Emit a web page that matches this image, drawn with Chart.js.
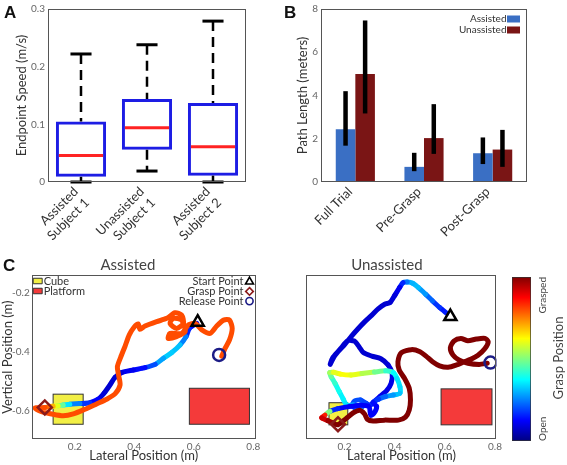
<!DOCTYPE html>
<html>
<head>
<meta charset="utf-8">
<script src="https://cdn.jsdelivr.net/npm/chart.js@4.4.1/dist/chart.umd.min.js"></script>
<style>
  html, body { margin: 0; padding: 0; background: #fff; }
  #fig { position: relative; width: 567px; height: 465px; overflow: hidden; font-family: Lato, 'Open Sans', sans-serif; }
  canvas { position: absolute; }
  .tag { position: absolute; font: bold 17px 'Liberation Sans', Arial, sans-serif; line-height: 1; color: #111; }
  .rot { position: absolute; transform-origin: 0 0; white-space: nowrap; color: #444; }
</style>
</head>
<body>
<div id="fig">
  <canvas id="chartA" width="290" height="250" style="left:0;top:0"></canvas>
  <canvas id="chartB" width="277" height="250" style="left:290px;top:0"></canvas>
  <canvas id="chartC1" width="275" height="215" style="left:0;top:250px"></canvas>
  <canvas id="chartC2" width="240" height="215" style="left:266px;top:250px"></canvas>
  <canvas id="colorbar" width="19" height="164" style="left:512px;top:277px"></canvas>
  <div class="tag" style="left:4px;top:4px">A</div>
  <div class="tag" style="left:284px;top:4px">B</div>
  <div class="tag" style="left:3px;top:257px">C</div>
  <div class="rot" style="left:536px;top:277px;font-size:10px;line-height:12px;transform:rotate(-90deg) translateX(-100%)">Grasped</div>
  <div class="rot" style="left:536px;top:441px;font-size:10px;line-height:12px;transform:rotate(-90deg)">Open</div>
  <div class="rot" style="left:550px;top:358px;font-size:13px;line-height:16px;transform:rotate(-90deg) translateX(-50%)">Grasp Position</div>
</div>
<script>
// ===========================
// DATA
// ===========================
// A - endpoint speed box plots
const SUBJECTS = [['Assisted', 'Subject 1'], ['Unassisted', 'Subject 1'], ['Assisted', 'Subject 2']];
const SPEED_MIN = [0, 0.019, 0];
const SPEED_Q1 = [0.009, 0.056, 0.011];
const SPEED_MEDIAN = [0.046, 0.094, 0.061];
const SPEED_Q3 = [0.105, 0.144, 0.137];
const SPEED_MAX = [0.222, 0.238, 0.279];
const SPEED_TICKS = [0, 0.1, 0.2, 0.3];

// B - path length bars with error bars
const PHASES = ['Full Trial', 'Pre-Grasp', 'Post-Grasp'];
const ASSISTED_LEN = [2.44, 0.70, 1.33];
const ASSISTED_LO = [1.68, 0.50, 0.83];
const ASSISTED_HI = [4.20, 1.35, 2.06];
const UNASSISTED_LEN = [5.00, 2.03, 1.50];
const UNASSISTED_LO = [3.17, 1.30, 0.70];
const UNASSISTED_HI = [7.47, 3.60, 2.41];

// C - endpoint trajectories (lateral m, vertical m, grasp 0 = open .. 1 = grasped)
const LATERAL_TICKS = [0.2, 0.4, 0.6, 0.8];
const VERTICAL_TICKS = [-0.6, -0.4, -0.2];

const ASSISTED_X = [
  0.610, 0.585, 0.574, 0.554, 0.526, 0.498, 0.470, 0.436, 0.397, 0.357, 0.335, 0.318, 0.298, 0.279, 0.251,
  0.217, 0.183, 0.161, 0.144, 0.127, 0.111, 0.099, 0.082, 0.066, 0.088, 0.122, 0.161, 0.195, 0.234, 0.273,
  0.307, 0.335, 0.352, 0.347, 0.343, 0.354, 0.369, 0.383, 0.399, 0.413, 0.419, 0.436, 0.475, 0.509, 0.537,
  0.559, 0.565, 0.542, 0.520, 0.531, 0.559, 0.571, 0.542, 0.514, 0.520, 0.559, 0.582, 0.604, 0.627, 0.655,
  0.677, 0.700, 0.720, 0.729, 0.720, 0.705, 0.694
];
const ASSISTED_Y = [
  -0.304, -0.321, -0.349, -0.377, -0.403, -0.422, -0.443, -0.454, -0.462, -0.471, -0.487, -0.513, -0.541, -0.561, -0.573,
  -0.576, -0.578, -0.581, -0.583, -0.585, -0.587, -0.589, -0.590, -0.591, -0.603, -0.611, -0.617, -0.611, -0.595, -0.577,
  -0.561, -0.543, -0.513, -0.479, -0.451, -0.419, -0.381, -0.343, -0.317, -0.306, -0.324, -0.313, -0.298, -0.287, -0.268,
  -0.276, -0.304, -0.321, -0.304, -0.287, -0.293, -0.332, -0.349, -0.355, -0.338, -0.338, -0.309, -0.304, -0.326, -0.338,
  -0.313, -0.293, -0.293, -0.321, -0.360, -0.389, -0.415
];
const ASSISTED_GRASP = [
  0.10, 0.12, 0.20, 0.30, 0.33, 0.32, 0.25, 0.15, 0.12, 0.10, 0.08, 0.08, 0.08, 0.10, 0.15,
  0.20, 0.30, 0.40, 0.55, 0.65, 0.75, 0.80, 0.80, 0.80, 0.80, 0.80, 0.80, 0.80, 0.80, 0.80,
  0.80, 0.80, 0.80, 0.80, 0.80, 0.80, 0.80, 0.80, 0.80, 0.80, 0.80, 0.80, 0.80, 0.80, 0.80,
  0.80, 0.80, 0.80, 0.80, 0.80, 0.80, 0.80, 0.80, 0.80, 0.80, 0.80, 0.80, 0.80, 0.80, 0.80,
  0.80, 0.80, 0.80, 0.80, 0.80, 0.80, 0.80
];

const UNASSISTED_X = [
  0.608, 0.579, 0.551, 0.523, 0.495, 0.472, 0.450, 0.433, 0.420, 0.401, 0.382, 0.360, 0.334, 0.309, 0.281,
  0.253, 0.228, 0.202, 0.174, 0.152, 0.143, 0.157, 0.185, 0.213, 0.239, 0.258, 0.275, 0.309, 0.345, 0.374,
  0.390, 0.386, 0.368, 0.341, 0.318, 0.302, 0.286, 0.263, 0.240, 0.231, 0.252, 0.271, 0.235, 0.209, 0.195,
  0.179, 0.162, 0.147, 0.141, 0.156, 0.184, 0.224, 0.269, 0.319, 0.364, 0.395, 0.409, 0.421, 0.421, 0.395,
  0.364, 0.336, 0.314, 0.328, 0.319, 0.305, 0.297, 0.257, 0.212, 0.173, 0.142, 0.122, 0.109, 0.134, 0.156,
  0.173, 0.207, 0.235, 0.263, 0.280, 0.291, 0.314, 0.359, 0.415, 0.443, 0.458, 0.463, 0.458, 0.439, 0.418,
  0.413, 0.427, 0.467, 0.501, 0.525, 0.551, 0.579, 0.613, 0.647, 0.675, 0.703, 0.731, 0.760, 0.773, 0.760,
  0.726, 0.692, 0.664, 0.636, 0.622, 0.632, 0.656, 0.692, 0.737, 0.769
];
const UNASSISTED_Y = [
  -0.270, -0.250, -0.228, -0.205, -0.183, -0.168, -0.164, -0.166, -0.182, -0.208, -0.233, -0.239, -0.255, -0.276, -0.298,
  -0.323, -0.347, -0.374, -0.400, -0.422, -0.443, -0.419, -0.389, -0.363, -0.364, -0.383, -0.403, -0.415, -0.424, -0.445,
  -0.473, -0.507, -0.532, -0.552, -0.569, -0.581, -0.575, -0.564, -0.567, -0.584, -0.594, -0.586, -0.581, -0.581, -0.561,
  -0.535, -0.507, -0.485, -0.471, -0.470, -0.476, -0.479, -0.474, -0.469, -0.465, -0.471, -0.490, -0.519, -0.541, -0.547,
  -0.552, -0.561, -0.572, -0.586, -0.607, -0.616, -0.586, -0.582, -0.587, -0.593, -0.602, -0.615, -0.624, -0.634, -0.643,
  -0.648, -0.626, -0.607, -0.599, -0.611, -0.629, -0.635, -0.632, -0.632, -0.622, -0.598, -0.564, -0.524, -0.490, -0.462,
  -0.434, -0.403, -0.393, -0.400, -0.415, -0.434, -0.448, -0.453, -0.445, -0.435, -0.426, -0.413, -0.389, -0.366, -0.355,
  -0.357, -0.363, -0.355, -0.364, -0.386, -0.411, -0.428, -0.439, -0.443, -0.439
];
const UNASSISTED_GRASP = [
  0.15, 0.15, 0.20, 0.25, 0.30, 0.32, 0.28, 0.20, 0.12, 0.10, 0.08, 0.08, 0.08, 0.08, 0.08,
  0.08, 0.08, 0.08, 0.08, 0.08, 0.08, 0.08, 0.08, 0.08, 0.08, 0.08, 0.08, 0.08, 0.08, 0.08,
  0.10, 0.10, 0.10, 0.10, 0.12, 0.15, 0.18, 0.20, 0.20, 0.20, 0.20, 0.22, 0.28, 0.35, 0.35,
  0.38, 0.40, 0.45, 0.50, 0.58, 0.62, 0.62, 0.58, 0.52, 0.45, 0.40, 0.35, 0.35, 0.33, 0.30,
  0.25, 0.20, 0.15, 0.12, 0.12, 0.12, 0.12, 0.12, 0.12, 0.12, 0.20, 0.80, 0.90, 0.95, 1.00,
  1.00, 1.00, 1.00, 1.00, 1.00, 1.00, 1.00, 1.00, 1.00, 1.00, 1.00, 1.00, 1.00, 1.00, 1.00,
  1.00, 1.00, 1.00, 1.00, 1.00, 1.00, 1.00, 1.00, 1.00, 1.00, 1.00, 1.00, 1.00, 1.00, 1.00,
  1.00, 1.00, 1.00, 1.00, 1.00, 1.00, 1.00, 1.00, 1.00, 1.00
];

// event points [lateral, vertical]
const ASSISTED_START = [0.613, -0.300];
const ASSISTED_GRASP_PT = [0.099, -0.589];
const ASSISTED_RELEASE = [0.685, -0.411];
const UNASSISTED_START = [0.622, -0.281];
const UNASSISTED_GRASP_PT = [0.174, -0.646];
const UNASSISTED_RELEASE = [0.782, -0.437];

// objects [x0, x1, y0, y1]
const ASSISTED_CUBE = [0.127, 0.228, -0.646, -0.544];
const ASSISTED_PLATFORM = [0.585, 0.787, -0.646, -0.524];
const UNASSISTED_CUBE = [0.138, 0.213, -0.648, -0.573];
const UNASSISTED_PLATFORM = [0.585, 0.788, -0.648, -0.526];

// colorbar stops
const GRASP_STOPS = [0, 0.125, 0.375, 0.625, 0.875, 1];

// ===========================
// HELPERS
// ===========================
Chart.defaults.font.family = 'Lato, "Open Sans", sans-serif';
Chart.defaults.color = '#666';
Chart.defaults.animation = false;
Chart.defaults.responsive = false;
Chart.defaults.plugins.legend.display = false;
Chart.defaults.plugins.tooltip.enabled = false;

const CUBE_YELLOW = '#f2ef45';
const PLATFORM_RED = '#f43a3a';
const GRASP_RED = '#8a1a1a';
const RELEASE_BLUE = '#1c1c86';

const jet = t => {
  const c = v => Math.round(255 * Math.min(1, Math.max(0, v)));
  return `rgb(${c(1.5 - Math.abs(4 * t - 3))},${c(1.5 - Math.abs(4 * t - 2))},${c(1.5 - Math.abs(4 * t - 1))})`;
};

const fixedSize = size => scale => {
  if (scale.isHorizontal()) scale.height = size;
  else scale.width = size;
};
const setTicks = values => scale => { scale.ticks = values.map(v => ({ value: v })); };

function line(ctx, x1, y1, x2, y2) {
  ctx.beginPath();
  ctx.moveTo(x1, y1);
  ctx.lineTo(x2, y2);
  ctx.stroke();
}

function drawSymbol(ctx, it, x, y) {
  ctx.save();
  ctx.lineWidth = it.lw || 1.5;
  ctx.strokeStyle = it.stroke || it.fill;
  ctx.beginPath();
  if (it.shape === 'rect') {
    ctx.rect(x - it.w / 2, y - it.h / 2, it.w, it.h);
  } else if (it.shape === 'triangle') {
    ctx.moveTo(x, y - it.r);
    ctx.lineTo(x + it.r * 0.866, y + it.r * 0.5);
    ctx.lineTo(x - it.r * 0.866, y + it.r * 0.5);
    ctx.closePath();
  } else if (it.shape === 'diamond') {
    ctx.moveTo(x, y - it.r);
    ctx.lineTo(x + it.r, y);
    ctx.lineTo(x, y + it.r);
    ctx.lineTo(x - it.r, y);
    ctx.closePath();
  } else {
    ctx.arc(x, y, it.r, 0, Math.PI * 2);
  }
  if (it.fill) { ctx.fillStyle = it.fill; ctx.fill(); }
  if (it.lw !== 0) ctx.stroke();
  ctx.restore();
}

// frame around every plot area
Chart.register({
  id: 'frame',
  afterDraw(chart) {
    const { ctx, chartArea: a } = chart;
    ctx.save();
    ctx.strokeStyle = '#555';
    ctx.lineWidth = 1;
    ctx.strokeRect(Math.round(a.left) + 0.5, Math.round(a.top) + 0.5, Math.round(a.right - a.left) - 1, Math.round(a.bottom - a.top) - 1);
    ctx.restore();
  }
});

// in-plot key drawn inside the plot area
function makeKey(groups) {
  return {
    id: 'key',
    afterDraw(chart) {
      const { ctx, chartArea: a } = chart;
      groups.forEach(g => {
        ctx.save();
        ctx.font = g.font;
        ctx.textBaseline = 'middle';
        g.items.forEach((it, i) => {
          const y = a.top + g.top + i * g.step;
          const sx = g.side === 'right' ? a.right - g.inset : a.left + g.inset;
          drawSymbol(ctx, it, sx, y);
          ctx.fillStyle = '#333';
          ctx.textAlign = g.side === 'right' ? 'right' : 'left';
          ctx.fillText(it.text, g.side === 'right' ? sx - g.gap : sx + g.gap, y);
        });
        ctx.restore();
      });
    }
  };
}

// cube and platform rectangles, in data units
function makeZones(rects) {
  return {
    id: 'zones',
    beforeDatasetsDraw(chart) {
      const { ctx, scales: { x, y } } = chart;
      rects.forEach(r => {
        const x0 = x.getPixelForValue(r.box[0]), x1 = x.getPixelForValue(r.box[1]);
        const y0 = y.getPixelForValue(r.box[2]), y1 = y.getPixelForValue(r.box[3]);
        ctx.save();
        ctx.fillStyle = r.fill;
        ctx.strokeStyle = '#333';
        ctx.lineWidth = 1;
        ctx.fillRect(x0, y1, x1 - x0, y0 - y1);
        ctx.strokeRect(x0, y1, x1 - x0, y0 - y1);
        ctx.restore();
      });
    }
  };
}

// ===========================
// A - BOX PLOT
// ===========================
const boxWhiskers = {
  id: 'boxWhiskers',
  afterDatasetsDraw(chart) {
    const { ctx, scales: { y } } = chart;
    chart.getDatasetMeta(0).data.forEach((bar, i) => {
      const cx = bar.x, half = bar.width / 2, cap = bar.width * 0.21;
      ctx.save();
      ctx.strokeStyle = '#000';
      ctx.lineWidth = 2.5;
      ctx.setLineDash([10, 6]);
      line(ctx, cx, y.getPixelForValue(SPEED_MAX[i]), cx, y.getPixelForValue(SPEED_Q3[i]));
      line(ctx, cx, y.getPixelForValue(SPEED_Q1[i]), cx, y.getPixelForValue(SPEED_MIN[i]));
      ctx.setLineDash([]);
      ctx.lineWidth = 3;
      line(ctx, cx - cap, y.getPixelForValue(SPEED_MAX[i]), cx + cap, y.getPixelForValue(SPEED_MAX[i]));
      line(ctx, cx - cap, y.getPixelForValue(SPEED_MIN[i]), cx + cap, y.getPixelForValue(SPEED_MIN[i]));
      ctx.strokeStyle = '#ff2323';
      line(ctx, cx - half + 3, y.getPixelForValue(SPEED_MEDIAN[i]), cx + half - 3, y.getPixelForValue(SPEED_MEDIAN[i]));
      ctx.restore();
    });
  }
};

new Chart(document.getElementById('chartA'), {
  type: 'bar',
  data: {
    labels: SUBJECTS,
    datasets: [{
      data: SPEED_Q1.map((q, i) => [q, SPEED_Q3[i]]),
      backgroundColor: 'rgba(0,0,0,0)',
      borderColor: '#1d1de4',
      borderWidth: 3,
      borderSkipped: false,
      barPercentage: 0.76,
      categoryPercentage: 1
    }]
  },
  options: {
    devicePixelRatio: 1,
    layout: { padding: { left: 14, top: 6, right: 44, bottom: 0 } },
    scales: {
      x: {
        grid: { display: false, drawTicks: false },
        border: { display: false },
        ticks: { autoSkip: false, minRotation: 45, maxRotation: 45, padding: 2, labelOffset: -5, color: '#333', font: { size: 13 } },
        afterFit: fixedSize(68)
      },
      y: {
        min: 0, max: 0.3,
        afterBuildTicks: setTicks(SPEED_TICKS),
        grid: { display: false, drawTicks: false },
        border: { display: false },
        ticks: { padding: 3, font: { size: 10 }, callback: v => v === 0 ? '0' : v.toFixed(1) },
        title: { display: true, text: 'Endpoint Speed (m/s)', padding: 0, color: '#333', font: { size: 13 } },
        afterFit: fixedSize(34)
      }
    }
  },
  plugins: [boxWhiskers]
});

// ===========================
// B - PATH LENGTH BARS
// ===========================
const errorBars = {
  id: 'errorBars',
  afterDatasetsDraw(chart) {
    const { ctx, scales: { y } } = chart;
    [[ASSISTED_LO, ASSISTED_HI], [UNASSISTED_LO, UNASSISTED_HI]].forEach(([lo, hi], d) => {
      chart.getDatasetMeta(d).data.forEach((bar, i) => {
        ctx.save();
        ctx.strokeStyle = '#000';
        ctx.lineWidth = 4.5;
        line(ctx, bar.x, y.getPixelForValue(lo[i]), bar.x, y.getPixelForValue(hi[i]));
        ctx.restore();
      });
    });
  }
};

new Chart(document.getElementById('chartB'), {
  type: 'bar',
  data: {
    labels: PHASES,
    datasets: [
      { label: 'Assisted', data: ASSISTED_LEN, backgroundColor: '#3a6fc4', barPercentage: 1, categoryPercentage: 0.57 },
      { label: 'Unassisted', data: UNASSISTED_LEN, backgroundColor: '#7a1515', barPercentage: 1, categoryPercentage: 0.57 }
    ]
  },
  options: {
    devicePixelRatio: 1,
    layout: { padding: { left: 5, top: 6, right: 40, bottom: 0 } },
    scales: {
      x: {
        grid: { display: false, drawTicks: false },
        border: { display: false },
        ticks: { autoSkip: false, minRotation: 45, maxRotation: 45, padding: 2, labelOffset: -5, color: '#333', font: { size: 13 } },
        afterFit: fixedSize(68)
      },
      y: {
        min: 0, max: 8,
        ticks: { stepSize: 2, padding: 3, font: { size: 10 } },
        grid: { display: false, drawTicks: false },
        border: { display: false },
        title: { display: true, text: 'Path Length (meters)', padding: 0, color: '#333', font: { size: 13 } },
        afterFit: fixedSize(26)
      }
    }
  },
  plugins: [errorBars, makeKey([{
    side: 'right', inset: 13.5, gap: 7, top: 10, step: 11, font: '10px Lato, "Open Sans", sans-serif',
    items: [
      { text: 'Assisted', shape: 'rect', w: 13, h: 7, fill: '#3a6fc4', lw: 0 },
      { text: 'Unassisted', shape: 'rect', w: 13, h: 7, fill: '#7a1515', lw: 0 }
    ]
  }])]
});

// ===========================
// C - TRAJECTORIES
// ===========================
function trajectory(xs, ys, gs) {
  return {
    data: xs.map((x, i) => ({ x, y: ys[i] })),
    borderWidth: 5,
    pointRadius: 0,
    tension: 0.25,
    borderCapStyle: 'round',
    borderJoinStyle: 'round',
    borderColor: jet(gs[0]),
    segment: { borderColor: c => jet((gs[c.p0DataIndex] + gs[c.p1DataIndex]) / 2) },
    order: 2
  };
}

function marker(pt, style, color, r) {
  return {
    data: [{ x: pt[0], y: pt[1] }],
    showLine: false,
    pointStyle: style,
    pointRadius: r,
    pointBorderWidth: 2.5,
    pointBorderColor: color,
    pointBackgroundColor: 'rgba(0,0,0,0)',
    order: 0
  };
}

function trajectoryOptions(title, xRange, showY, padLeft, padRight) {
  return {
    devicePixelRatio: 1,
    layout: { padding: { left: padLeft, top: 0, right: padRight, bottom: 0 } },
    plugins: {
      title: { display: true, text: title, color: '#444', padding: { top: 6, bottom: 1 }, font: { size: 15, weight: 'normal' } }
    },
    scales: {
      x: {
        type: 'linear', min: xRange[0], max: xRange[1],
        afterBuildTicks: setTicks(LATERAL_TICKS),
        grid: { display: false, drawTicks: false },
        border: { display: false },
        ticks: { padding: 1, font: { size: 10 }, callback: v => v.toFixed(1) },
        title: { display: true, text: 'Lateral Position (m)', padding: { top: 0, bottom: 1 }, color: '#333', font: { size: 13 } },
        afterFit: fixedSize(25.7)
      },
      y: {
        display: showY,
        min: -0.697, max: -0.14,
        afterBuildTicks: setTicks(VERTICAL_TICKS),
        grid: { display: false, drawTicks: false },
        border: { display: false },
        ticks: { padding: 2, font: { size: 10 }, callback: v => v.toFixed(1) },
        title: { display: true, text: 'Vertical Position (m)', padding: 0, color: '#333', font: { size: 13 } },
        afterFit: fixedSize(31.7)
      }
    }
  };
}

new Chart(document.getElementById('chartC1'), {
  type: 'line',
  data: {
    datasets: [
      trajectory(ASSISTED_X, ASSISTED_Y, ASSISTED_GRASP),
      marker(ASSISTED_START, 'triangle', '#000', 7),
      marker(ASSISTED_GRASP_PT, 'rectRot', GRASP_RED, 7),
      marker(ASSISTED_RELEASE, 'circle', RELEASE_BLUE, 6)
    ]
  },
  options: trajectoryOptions('Assisted', [0.055, 0.808], true, 0, 19.3),
  plugins: [
    makeZones([{ box: ASSISTED_CUBE, fill: CUBE_YELLOW }, { box: ASSISTED_PLATFORM, fill: PLATFORM_RED }]),
    makeKey([
      {
        side: 'left', inset: 6, gap: 6, top: 6, step: 10, font: '11px Lato, "Open Sans", sans-serif',
        items: [
          { text: 'Cube', shape: 'rect', w: 9, h: 5.5, fill: CUBE_YELLOW, stroke: '#333', lw: 1 },
          { text: 'Platform', shape: 'rect', w: 9, h: 5.5, fill: PLATFORM_RED, stroke: '#333', lw: 1 }
        ]
      },
      {
        side: 'right', inset: 6.2, gap: 6, top: 6.7, step: 9.7, font: '11px Lato, "Open Sans", sans-serif',
        items: [
          { text: 'Start Point', shape: 'triangle', r: 4.6, stroke: '#000', lw: 1.6 },
          { text: 'Grasp Point', shape: 'diamond', r: 3.8, stroke: GRASP_RED, lw: 1.6 },
          { text: 'Release Point', shape: 'circle', r: 3.6, stroke: RELEASE_BLUE, lw: 1.6 }
        ]
      }
    ])
  ]
});

new Chart(document.getElementById('chartC2'), {
  type: 'line',
  data: {
    datasets: [
      trajectory(UNASSISTED_X, UNASSISTED_Y, UNASSISTED_GRASP),
      marker(UNASSISTED_START, 'triangle', '#000', 7),
      marker(UNASSISTED_GRASP_PT, 'rectRot', GRASP_RED, 7),
      marker(UNASSISTED_RELEASE, 'circle', RELEASE_BLUE, 6)
    ]
  },
  options: trajectoryOptions('Unassisted', [0.048, 0.806], false, 8.7, 7),
  plugins: [makeZones([{ box: UNASSISTED_CUBE, fill: CUBE_YELLOW }, { box: UNASSISTED_PLATFORM, fill: PLATFORM_RED }])]
});

// ===========================
// COLORBAR
// ===========================
function jetGradient(chart) {
  const a = chart.chartArea;
  if (!a) return jet(0.5);
  const g = chart.ctx.createLinearGradient(0, a.bottom, 0, a.top);
  GRASP_STOPS.forEach(s => g.addColorStop(s, jet(s)));
  return g;
}

new Chart(document.getElementById('colorbar'), {
  type: 'bar',
  data: {
    labels: [''],
    datasets: [{
      data: [[0, 1]],
      backgroundColor: c => jetGradient(c.chart),
      borderColor: '#333',
      borderWidth: 1,
      borderSkipped: false,
      barPercentage: 1,
      categoryPercentage: 1
    }]
  },
  options: {
    devicePixelRatio: 1,
    layout: { padding: 0 },
    scales: { x: { display: false }, y: { display: false, min: 0, max: 1 } },
    plugins: { frame: false }
  }
});
</script>
</body>
</html>
